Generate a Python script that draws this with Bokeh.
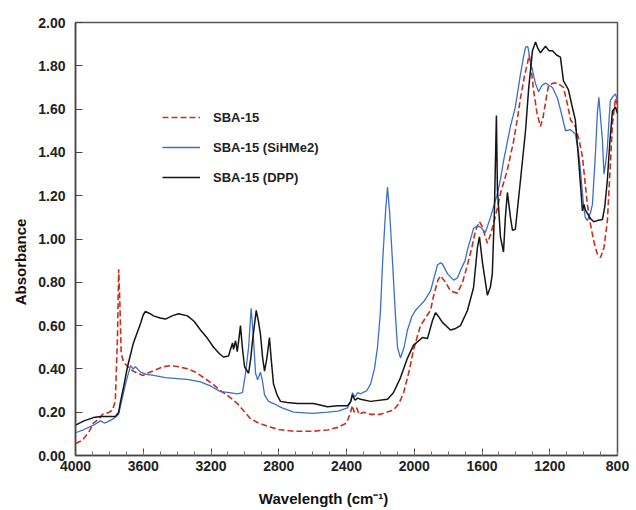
from bokeh.plotting import figure
from bokeh.models import (Range1d, SingleIntervalTicker, NumeralTickFormatter,
                          Legend, LegendItem)
from bokeh.embed import file_html
from bokeh.resources import INLINE

# ---- data (wavenumber cm-1, absorbance) ----
sba_wn = [4000, 3960, 3920, 3894, 3860, 3840, 3800, 3782, 3765, 3752, 3745, 3738, 3730, 3715,
          3690, 3660, 3634, 3600, 3575, 3530, 3480, 3439, 3390, 3339, 3290, 3244, 3190, 3144,
          3090, 3044, 3000, 2967, 2920, 2867, 2800, 2713, 2600, 2512, 2450, 2400, 2380, 2365,
          2355, 2340, 2325, 2300, 2258, 2200, 2123, 2090, 2063, 2030, 2004, 1963, 1930, 1904,
          1885, 1860, 1845, 1815, 1786, 1745, 1715, 1686, 1660, 1638, 1615, 1600, 1568, 1550,
          1532, 1510, 1491, 1450, 1414, 1390, 1373, 1350, 1332, 1322, 1310, 1296, 1275, 1255,
          1240, 1225, 1207, 1180, 1154, 1119, 1095, 1077, 1049, 1025, 1007, 990, 978, 960,
          940, 919, 900, 880, 860, 845, 830, 812, 800]
sba_abs = [0.055, 0.07, 0.11, 0.15, 0.17, 0.19, 0.20, 0.21, 0.25, 0.55, 0.86, 0.70, 0.47, 0.43,
           0.41, 0.39, 0.38, 0.37, 0.38, 0.395, 0.41, 0.415, 0.41, 0.40, 0.385, 0.36, 0.33, 0.30,
           0.27, 0.24, 0.20, 0.17, 0.15, 0.135, 0.12, 0.112, 0.112, 0.118, 0.13, 0.15, 0.19, 0.23,
           0.20, 0.22, 0.19, 0.20, 0.19, 0.19, 0.21, 0.24, 0.29, 0.39, 0.49, 0.60, 0.64, 0.67,
           0.74, 0.81, 0.83, 0.80, 0.76, 0.75, 0.80, 0.88, 0.96, 1.04, 1.08, 1.06, 0.98, 1.02,
           1.07, 1.14, 1.21, 1.32, 1.45, 1.56, 1.65, 1.75, 1.81, 1.85, 1.79, 1.69, 1.58, 1.52,
           1.56, 1.63, 1.71, 1.72, 1.72, 1.70, 1.62, 1.55, 1.52, 1.45, 1.38, 1.25, 1.16, 1.07,
           0.99, 0.93, 0.915, 0.96, 1.08, 1.30, 1.53, 1.65, 1.62]

sih_wn = [4000, 3950, 3894, 3852, 3830, 3811, 3776, 3746, 3725, 3705, 3675, 3660, 3646, 3616,
          3580, 3539, 3470, 3397, 3330, 3262, 3200, 3144, 3090, 3044, 3014, 2996, 2978, 2963,
          2950, 2937, 2925, 2908, 2895, 2884, 2860, 2831, 2780, 2713, 2600, 2512, 2450, 2394,
          2375, 2365, 2350, 2335, 2317, 2280, 2258, 2235, 2217, 2200, 2187, 2170, 2158, 2145,
          2128, 2112, 2099, 2081, 2060, 2040, 2015, 1993, 1970, 1945, 1920, 1904, 1880, 1863,
          1845, 1834, 1804, 1768, 1745, 1727, 1700, 1686, 1660, 1650, 1630, 1609, 1580, 1550,
          1509, 1490, 1473, 1450, 1432, 1403, 1373, 1355, 1343, 1330, 1325, 1315, 1302, 1285,
          1266, 1245, 1225, 1205, 1184, 1154, 1125, 1107, 1077, 1049, 1030, 1019, 1000, 990,
          978, 960, 948, 930, 919, 910, 900, 889, 880, 870, 860, 850, 842, 825, 812, 800]
sih_abs = [0.105, 0.12, 0.14, 0.16, 0.15, 0.155, 0.17, 0.19, 0.26, 0.33, 0.415, 0.40, 0.41, 0.385,
           0.375, 0.37, 0.36, 0.355, 0.35, 0.34, 0.32, 0.295, 0.29, 0.285, 0.29, 0.38, 0.50, 0.68,
           0.55, 0.38, 0.35, 0.385, 0.34, 0.28, 0.25, 0.24, 0.22, 0.20, 0.195, 0.20, 0.205, 0.22,
           0.25, 0.29, 0.27, 0.29, 0.285, 0.30, 0.33, 0.40, 0.50, 0.66, 0.89, 1.12, 1.24, 1.12,
           0.89, 0.66, 0.50, 0.45, 0.50, 0.58, 0.64, 0.67, 0.69, 0.71, 0.74, 0.76, 0.83, 0.88,
           0.89, 0.885, 0.84, 0.81, 0.82, 0.855, 0.90, 0.95, 1.02, 1.05, 1.06, 1.055, 1.03, 1.10,
           1.21, 1.28, 1.36, 1.45, 1.52, 1.61, 1.76, 1.84, 1.885, 1.89, 1.87, 1.82, 1.78, 1.72,
           1.68, 1.71, 1.72, 1.71, 1.70, 1.65, 1.56, 1.50, 1.505, 1.485, 1.40, 1.32, 1.15, 1.10,
           1.085, 1.12, 1.16, 1.40, 1.58, 1.655, 1.56, 1.455, 1.30, 1.35, 1.42, 1.55, 1.64, 1.66,
           1.67, 1.64]

dpp_wn = [4000, 3950, 3894, 3850, 3811, 3764, 3745, 3734, 3715, 3693, 3658, 3630, 3616, 3600,
          3587, 3560, 3539, 3500, 3469, 3430, 3392, 3339, 3300, 3262, 3220, 3185, 3150, 3126,
          3096, 3085, 3073, 3067, 3055, 3045, 3035, 3026, 3015, 3002, 2978, 2965, 2955, 2933,
          2920, 2908, 2895, 2884, 2870, 2855, 2845, 2831, 2810, 2790, 2750, 2689, 2595, 2512,
          2450, 2394, 2375, 2365, 2350, 2335, 2317, 2258, 2158, 2123, 2081, 2040, 2004, 1951,
          1922, 1892, 1874, 1855, 1834, 1786, 1760, 1727, 1686, 1650, 1627, 1615, 1597, 1568,
          1550, 1539, 1527, 1515, 1509, 1491, 1473, 1462, 1450, 1432, 1420, 1403, 1373, 1343,
          1325, 1302, 1284, 1270, 1255, 1225, 1205, 1184, 1160, 1137, 1119, 1090, 1070, 1049,
          1031, 1007, 998, 990, 960, 940, 919, 889, 875, 860, 845, 830, 812, 800]
dpp_abs = [0.14, 0.16, 0.175, 0.18, 0.18, 0.18, 0.20, 0.25, 0.32, 0.41, 0.52, 0.58, 0.61, 0.65,
           0.665, 0.655, 0.645, 0.635, 0.63, 0.645, 0.655, 0.645, 0.62, 0.58, 0.54, 0.50, 0.47, 0.455,
           0.46, 0.49, 0.52, 0.49, 0.53, 0.48, 0.54, 0.60, 0.50, 0.41, 0.38, 0.45, 0.53, 0.67,
           0.62, 0.56, 0.45, 0.39, 0.45, 0.545, 0.45, 0.33, 0.28, 0.25, 0.245, 0.24, 0.24, 0.225,
           0.23, 0.23, 0.25, 0.28, 0.255, 0.265, 0.26, 0.25, 0.26, 0.29, 0.36, 0.45, 0.51, 0.545,
           0.54, 0.625, 0.66, 0.64, 0.615, 0.58, 0.585, 0.60, 0.67, 0.775, 0.96, 1.01, 0.89, 0.74,
           0.78, 0.84, 1.12, 1.57, 1.23, 1.01, 0.94, 1.10, 1.215, 1.10, 1.04, 1.045, 1.27, 1.50,
           1.69, 1.87, 1.91, 1.88, 1.86, 1.89, 1.87, 1.87, 1.85, 1.84, 1.73, 1.69, 1.62, 1.55,
           1.38, 1.13, 1.16, 1.135, 1.095, 1.08, 1.085, 1.09, 1.15, 1.27, 1.45, 1.59, 1.61, 1.58]

series_names = ["SBA-15", "SBA-15 (SiHMe2)", "SBA-15 (DPP)"]

FONT = "Liberation Sans"
PAD = "\u00a0" * 11  # shifts axis titles off-centre as in the reference

p = figure(width=636, height=510, output_backend="svg", toolbar_location=None,
           x_range=Range1d(4000, 800), y_range=Range1d(0, 2),
           min_border_left=75, min_border_right=19, min_border_top=22, min_border_bottom=55)
p.background_fill_color = "white"
p.border_fill_color = "white"
p.outline_line_color = "#555555"
p.outline_line_width = 1.5
p.grid.visible = False

xa = p.xaxis[0]
xa.ticker = SingleIntervalTicker(interval=400, num_minor_ticks=4)
xa.axis_label = "Wavelength (cm\u207b\u00b9)" + PAD
ya = p.yaxis[0]
ya.ticker = SingleIntervalTicker(interval=0.2, num_minor_ticks=0)
ya.formatter = NumeralTickFormatter(format="0.00")
ya.axis_label = "Absorbance" + PAD

for ax in (xa, ya):
    ax.axis_line_color = "#444444"
    ax.axis_line_width = 1.5
    ax.major_tick_in = 7
    ax.major_tick_out = 0
    ax.minor_tick_in = 4
    ax.minor_tick_out = 0
    ax.major_tick_line_color = "#444444"
    ax.minor_tick_line_color = "#777777"
    ax.major_label_text_font = FONT
    ax.major_label_text_font_style = "bold"
    ax.major_label_text_font_size = "14px"
    ax.major_label_text_color = "#222222"
    ax.axis_label_text_font = FONT
    ax.axis_label_text_font_style = "bold"
    ax.axis_label_text_font_size = "15px"
    ax.axis_label_text_color = "#111111"
ya.minor_tick_line_color = None
xa.major_label_standoff = 5
ya.major_label_standoff = 10
xa.axis_label_standoff = 16
ya.axis_label_standoff = 6

r1 = p.line(sba_wn, sba_abs, line_color="#c8301e", line_width=1.6, line_dash="6 3")
r2 = p.line(sih_wn, sih_abs, line_color="#3c6fc9", line_width=1.3)
r3 = p.line(dpp_wn, dpp_abs, line_color="#151515", line_width=1.5)

legend = Legend(items=[LegendItem(label=series_names[0], renderers=[r1]),
                       LegendItem(label=series_names[1], renderers=[r2]),
                       LegendItem(label=series_names[2], renderers=[r3])],
                location=(87, 268), padding=0, spacing=10, glyph_width=38, glyph_height=20,
                label_height=20, label_standoff=13, border_line_color=None,
                background_fill_alpha=0, label_text_font=FONT, label_text_font_style="bold",
                label_text_font_size="13px", label_text_color="#222222")
p.add_layout(legend)

open("out.html", "w").write(file_html(p, INLINE))
